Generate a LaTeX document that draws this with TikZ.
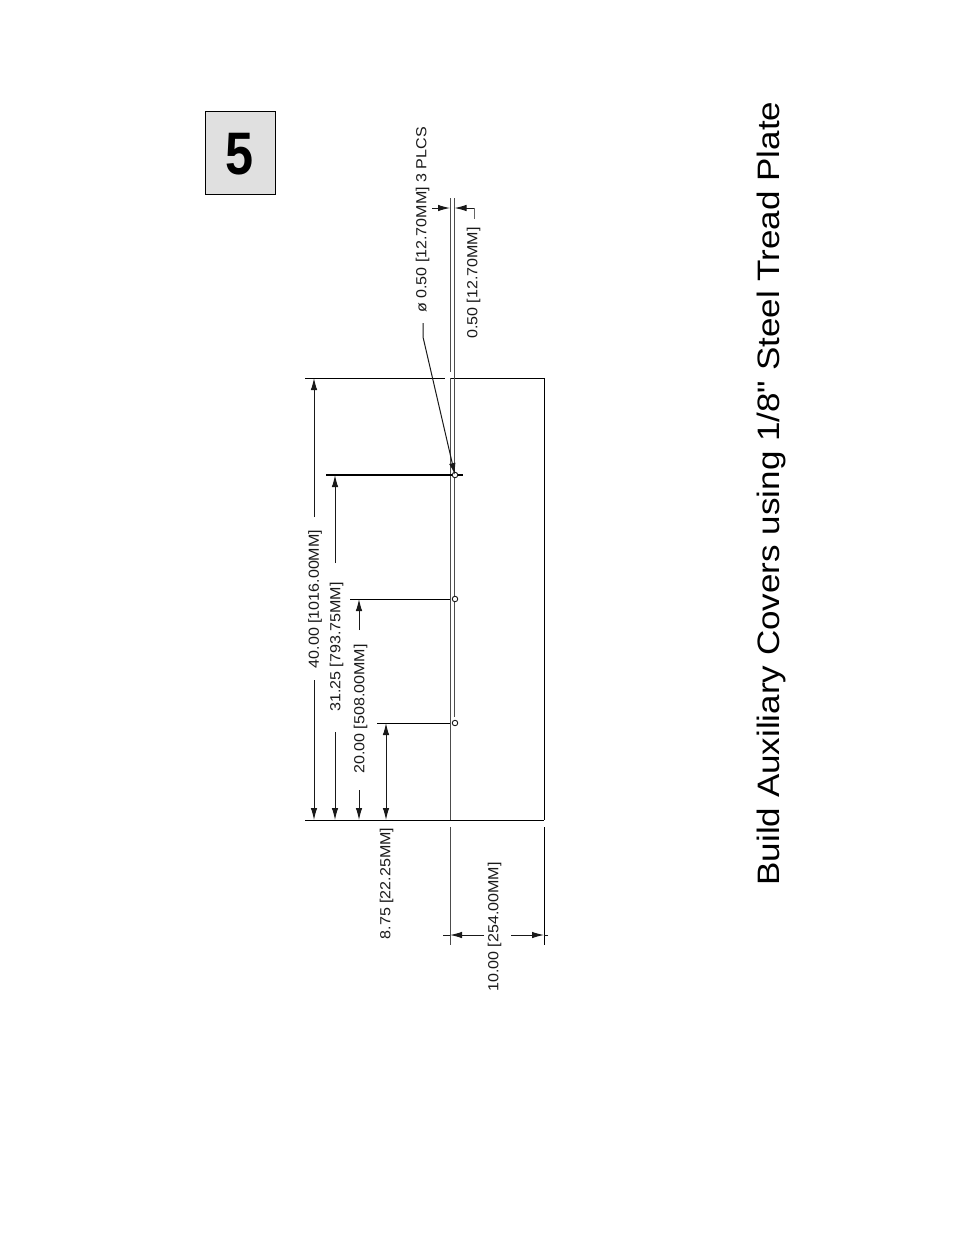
\documentclass[tikz,border=0pt]{standalone}
\usepackage{fontspec}
\setmainfont{Liberation Sans}[Ligatures=TeXOff]
\usetikzlibrary{arrows.meta}
\newcommand{\dimlabel}[1]{\scalebox{1.1}[1]{#1}}
\tikzset{
  plate/.style={line width=0.85pt,black},
  thin line/.style={line width=1pt,black!70},
  tipmark/.tip={Latex[length=12pt,width=6.5pt]},
  dimline/.style={line width=1pt,black!90},
  dimtip/.style={-tipmark,dimline},
  dimtext/.style={rotate=90,font=\fontsize{14.6}{15}\selectfont,inner sep=0pt,text=black!90},
  hole/.style={circle,draw=black!90,line width=0.9pt,minimum size=5.5pt,inner sep=0pt,fill=white},
}
\begin{document}
\begin{tikzpicture}[x=1pt,y=-1pt]
\useasboundingbox (0,0) rectangle (954,1235);
\fill[white] (0,0) rectangle (954,1235);
% step badge
\node[draw=black,line width=0.9pt,fill=black!12,minimum width=70pt,minimum height=83pt,inner sep=0pt] (badge) at (240,152.5) {};
\node[inner sep=0pt] (five) at (239.5,154) {\scalebox{0.84}[1]{\fontsize{60}{60}\selectfont\bfseries 5}};
% title
\node[rotate=90,inner sep=0pt,font=\fontsize{31}{32}\selectfont] (title) at (771,493.5) {\scalebox{1.13}[1]{Build Auxiliary Covers using 1/8" Steel Tread Plate}};
% plate
\draw[plate] (305,378) -- (445,378);
\draw[plate] (450,378) -- (544,378) -- (544,820);
\draw[plate] (305,820.5) -- (544,820.5);
\draw[thin line] (450,378) -- (450,820);
% channel lines
\draw[thin line] (450,198) -- (450,372);
\draw[thin line] (454.5,198) -- (454.5,717);
% extension lines
\draw[thin line] (450,827) -- (450,945);
\draw[plate] (544,827) -- (544,945);
\draw[line width=1.1pt] (326,475) -- (463,475);
\draw[plate] (350,599) -- (450,599);
\draw[plate] (377,723) -- (450,723);
% holes
\node[hole] (h1) at (455,475) {};
\node[hole] (h2) at (455,599) {};
\node[hole] (h3) at (455,723) {};
% 40.00
\node[dimtext] (d40) at (315,599) {\dimlabel{40.00 [1016.00MM]}};
\coordinate (t40) at (314,378); \coordinate (b40) at (314,820);
\draw[dimtip] (314,517) -- (t40);
\draw[dimtip] (314,680) -- (b40);
% 31.25
\node[dimtext] (d31) at (336.5,647) {\dimlabel{31.25 [793.75MM]}};
\coordinate (t31) at (335,475); \coordinate (b31) at (335,820);
\draw[dimtip] (335,563) -- (t31);
\draw[dimtip] (335,732) -- (b31);
% 20.00
\node[dimtext] (d20) at (360.5,709) {\dimlabel{20.00 [508.00MM]}};
\coordinate (t20) at (359,599); \coordinate (b20) at (359,820);
\draw[dimtip] (359,630) -- (t20);
\draw[dimtip] (359,790) -- (b20);
% 8.75
\node[dimtext] (d8) at (386.5,883.5) {\dimlabel{8.75 [22.25MM]}};
\coordinate (t8) at (386,723); \coordinate (b8) at (386,820);
\draw[tipmark-tipmark,dimline] (t8) -- (b8);
% 10.00
\node[dimtext] (d10) at (494.5,927) {\dimlabel{10.00 [254.00MM]}};
\coordinate (l10) at (450,935); \coordinate (r10) at (544,935);
\draw[dimline] (443,935) -- (l10);
\draw[dimtip] (484,935) -- (l10);
\draw[dimline] (548,935) -- (r10);
\draw[dimtip] (511,935) -- (r10);
% 0.50 slot
\node[dimtext] (d05) at (473.5,283) {\dimlabel{0.50 [12.70MM]}};
\coordinate (a05) at (450,208); \coordinate (b05) at (454.5,208);
\draw[dimtip] (432,208) -- (a05);
\draw[dimtip] (474,208) -- (b05);
\draw[line width=1pt,black!60] (474,208) -- (474,219);
% leader
\node[dimtext] (dphi) at (422.5,220) {\dimlabel{ø 0.50 [12.70MM] 3 PLCS}};
\draw[dimtip] (423,323) -- (423,337) -- (h1.center);
\end{tikzpicture}
\end{document}
